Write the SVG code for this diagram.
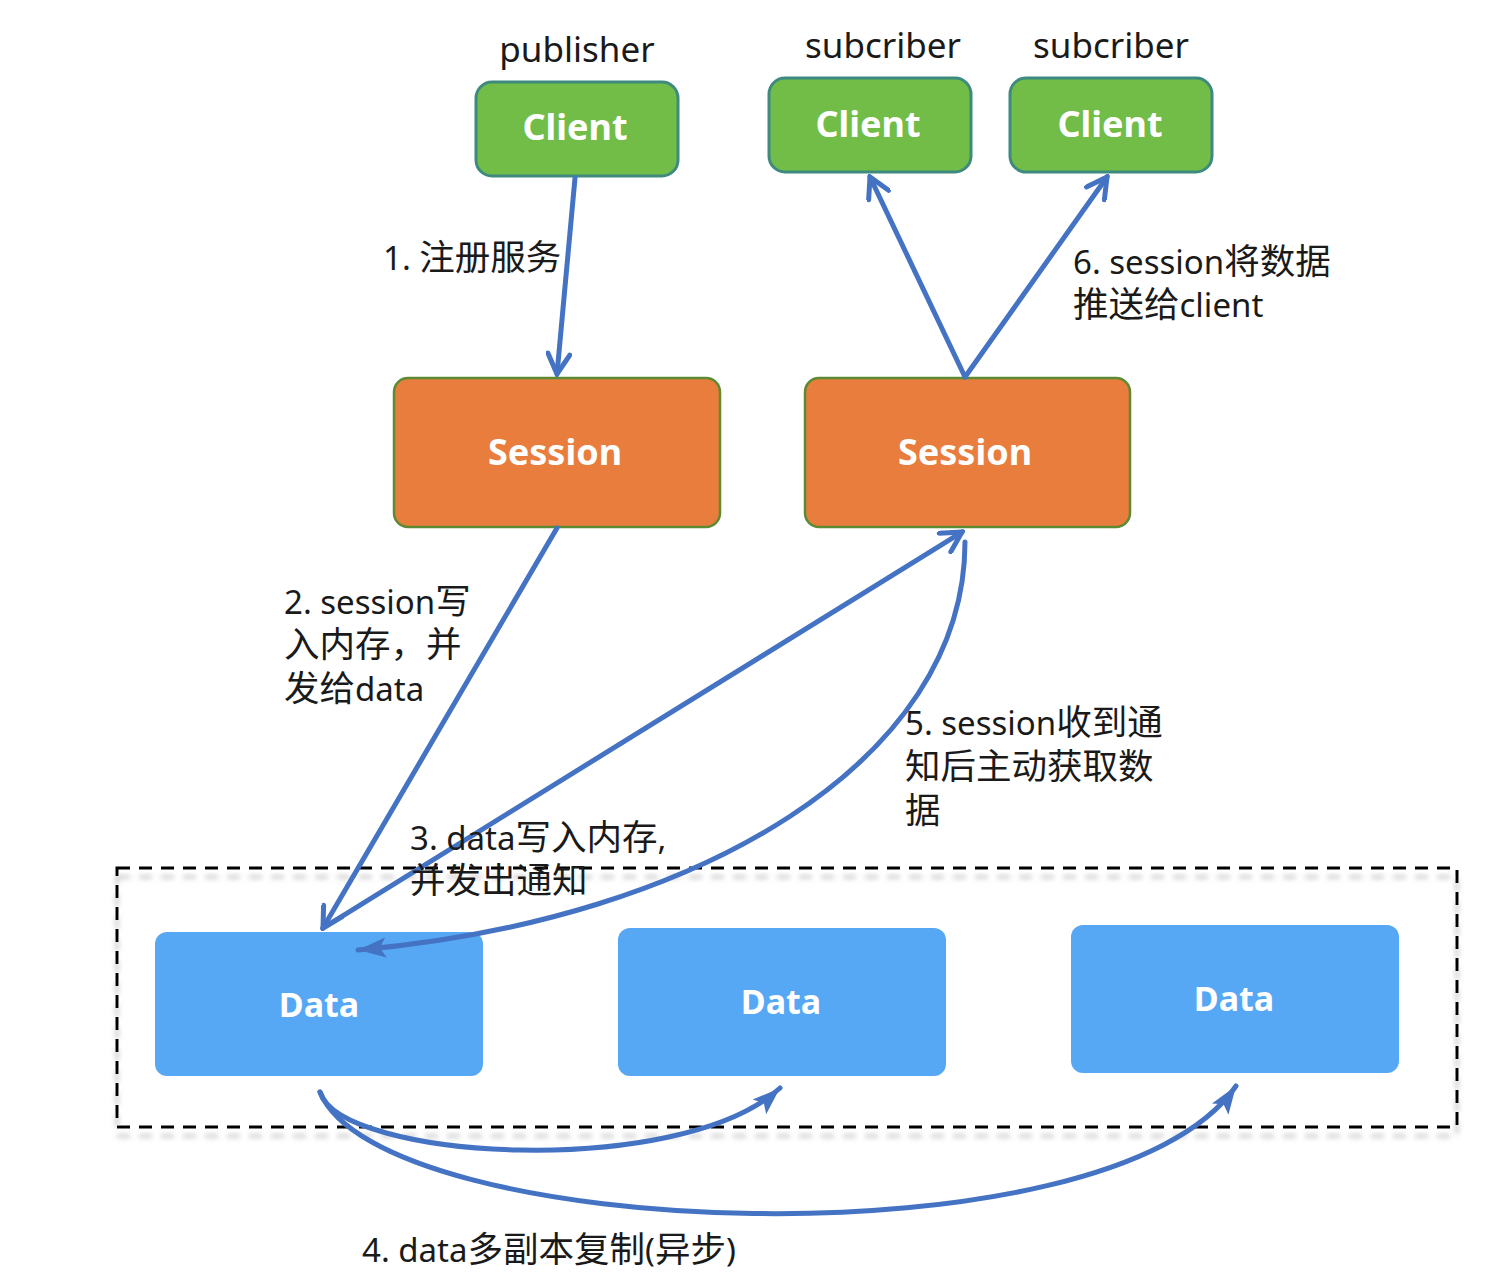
<svg xmlns="http://www.w3.org/2000/svg" width="1486" height="1288" viewBox="0 0 1486 1288">
<style>
.client{fill:#71BD47;stroke:#3E8A7E;stroke-width:3}
.session{fill:#E97D3D;stroke:#5C8B33;stroke-width:2.5}
.data{fill:#56A8F5}
.nlabel{font-family:"Noto Sans","Noto Sans CJK SC",sans-serif;font-weight:bold;fill:#fff;text-anchor:middle}
.t{font-family:"Noto Sans","Noto Sans CJK SC",sans-serif;font-size:33px;fill:#1a1a1a}
.c{font-size:35.5px}
.role{font-family:"Noto Sans","Noto Sans CJK SC",sans-serif;font-size:35px;fill:#1a1a1a;text-anchor:middle}
.edge{fill:none;stroke:#4573C4;stroke-width:5;stroke-linecap:round}
</style>
<defs>
<marker id="open" markerUnits="userSpaceOnUse" viewBox="0 0 26 26" refX="23" refY="13" markerWidth="26" markerHeight="26" orient="auto">
<path d="M3,2 L23,13 L3,24" fill="none" stroke="#4573C4" stroke-width="5" stroke-linecap="round" stroke-linejoin="miter"/>
</marker>
<marker id="solid" markerUnits="userSpaceOnUse" viewBox="0 0 30 30" refX="28" refY="15" markerWidth="30" markerHeight="30" orient="auto">
<path d="M0,5 L28,15 L0,25 L6,15 z" fill="#4573C4"/>
</marker>
<filter id="shadow" x="-5%" y="-10%" width="110%" height="130%">
<feDropShadow dx="0" dy="9" stdDeviation="2.5" flood-color="#888" flood-opacity="0.5"/>
</filter>
</defs>

<g id="cluster">
<rect x="117" y="868" width="1340" height="259" fill="none" stroke="#000" stroke-width="3" stroke-dasharray="13,9" filter="url(#shadow)"/>
</g>

<g id="publisher-client">
<text class="role" x="577" y="62">publisher</text>
<rect class="client" x="476" y="82" width="202" height="94" rx="16"/>
<text class="nlabel" x="575" y="140" font-size="36">Client</text>
</g>
<g id="subscriber-client-1">
<text class="role" x="883" y="58">subcriber</text>
<rect class="client" x="769" y="78" width="202" height="94" rx="16"/>
<text class="nlabel" x="868" y="137" font-size="36">Client</text>
</g>
<g id="subscriber-client-2">
<text class="role" x="1111" y="58">subcriber</text>
<rect class="client" x="1010" y="78" width="202" height="94" rx="16"/>
<text class="nlabel" x="1110" y="137" font-size="36">Client</text>
</g>

<g id="session-1">
<rect class="session" x="394" y="378" width="326" height="149" rx="14"/>
<text class="nlabel" x="555" y="465" font-size="36">Session</text>
</g>
<g id="session-2">
<rect class="session" x="805" y="378" width="325" height="149" rx="14"/>
<text class="nlabel" x="965" y="465" font-size="36">Session</text>
</g>

<g id="data-1">
<rect class="data" x="155" y="932" width="328" height="144" rx="12"/>
<text class="nlabel" x="319" y="1017" font-size="34">Data</text>
</g>
<g id="data-2">
<rect class="data" x="618" y="928" width="328" height="148" rx="12"/>
<text class="nlabel" x="781" y="1014" font-size="34">Data</text>
</g>
<g id="data-3">
<rect class="data" x="1071" y="925" width="328" height="148" rx="12"/>
<text class="nlabel" x="1234" y="1011" font-size="34">Data</text>
</g>

<g id="connectors">
<path class="edge" d="M575,178 L557,374" marker-end="url(#open)"/>
<path class="edge" d="M557,528 L323,928" marker-end="url(#open)"/>
<path class="edge" d="M323,928 L962,532" marker-end="url(#open)"/>
<path class="edge" d="M965,542 C965,760 700,920 358,950" marker-end="url(#solid)"/>
<path class="edge" d="M965,377 L870,177" marker-end="url(#open)"/>
<path class="edge" d="M965,377 L1107,177" marker-end="url(#open)"/>
<path class="edge" d="M320,1092 C340,1160 680,1180 780,1088" marker-end="url(#solid)"/>
<path class="edge" d="M320,1092 C380,1240 1110,1270 1236,1086" marker-end="url(#solid)"/>
</g>

<g id="labels">
<text class="t" x="383" y="270">1. <tspan class="c">注册服务</tspan></text>
<text class="t" x="284" y="614">2. session<tspan class="c">写</tspan><tspan x="284" y="657" class="c">入内存，并</tspan><tspan x="284" y="701" class="c">发给</tspan>data</text>
<text class="t" x="410" y="850">3. data<tspan class="c">写入内存</tspan>,<tspan x="410" y="893" class="c">并发出通知</tspan></text>
<text class="t" x="905" y="735">5. session<tspan class="c">收到通</tspan><tspan x="905" y="779" class="c">知后主动获取数</tspan><tspan x="905" y="823" class="c">据</tspan></text>
<text class="t" x="1073" y="274">6. session<tspan class="c">将数据</tspan><tspan x="1073" y="317" class="c">推送给</tspan>client</text>
<text class="t" x="362" y="1262">4. data<tspan class="c">多副本复制</tspan>(<tspan class="c">异步</tspan>)</text>
</g>
</svg>
